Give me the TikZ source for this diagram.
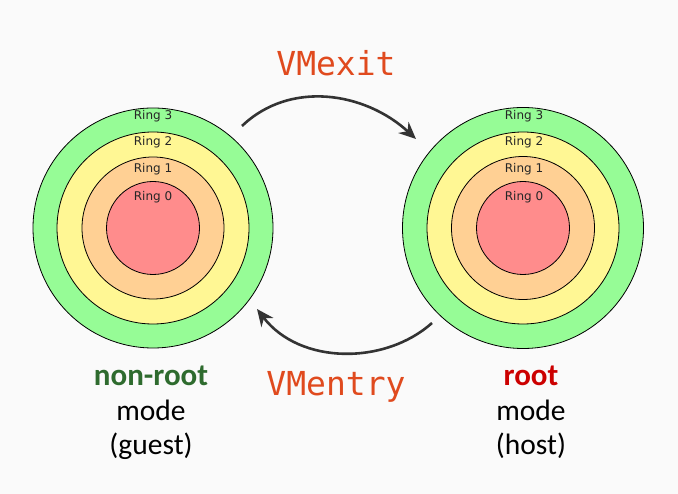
\documentclass[tikz,border=0pt]{standalone}
\usepackage{fontspec}
\setmainfont{Carlito}
\newfontfamily\ringfont{DejaVu Sans}
\newfontfamily\monofont{DejaVu Sans Mono}
\usetikzlibrary{arrows.meta}
\definecolor{bg}{HTML}{FAFAFA}
\definecolor{rthree}{HTML}{96FC96}
\definecolor{rtwo}{HTML}{FFF794}
\definecolor{rone}{HTML}{FFD094}
\definecolor{rzero}{HTML}{FF8C8C}
\definecolor{vmcol}{HTML}{E04A1E}
\definecolor{arrowcol}{HTML}{333333}
\definecolor{guestcol}{HTML}{2E6B2E}
\definecolor{hostcol}{HTML}{CC0000}
\tikzset{
  ring/.style={circle, draw=black, line width=0.8pt, inner sep=0pt},
  ringlabel/.style={font=\ringfont\fontsize{12}{14}\selectfont, text=black!85, inner sep=0pt},
  vmlabel/.style={font=\monofont\fontsize{33}{36}\selectfont, text=vmcol, inner sep=0pt},
  modelabel/.style={font=\fontsize{29.5}{35}\selectfont, align=center, inner sep=0pt},
  flow/.style={draw=arrowcol, line width=2.6pt, -{Stealth[length=17pt,width=15pt]}}
}
\begin{document}
\begin{tikzpicture}[x=1pt,y=-1pt]
\fill[bg] (0,0) rectangle (678,494);
\useasboundingbox (0,0) rectangle (678,494);
% left rings
\node[ring, fill=rthree, minimum size=240pt] (gthree) at (153,228) {};
\node[ring, fill=rtwo, minimum size=192pt] (gtwo) at (153,228) {};
\node[ring, fill=rone, minimum size=142pt] (gone) at (153,228) {};
\node[ring, fill=rzero, minimum size=93pt] (gzero) at (153,228) {};
\node[ringlabel] (gl3) at (153,116) {Ring 3};
\node[ringlabel] (gl2) at (153,142) {Ring 2};
\node[ringlabel] (gl1) at (153,169) {Ring 1};
\node[ringlabel] (gl0) at (153,197) {Ring 0};
% right rings
\node[ring, fill=rthree, minimum size=241pt] (hthree) at (523,228) {};
\node[ring, fill=rtwo, minimum size=192pt] (htwo) at (523,228) {};
\node[ring, fill=rone, minimum size=143pt] (hone) at (523,228) {};
\node[ring, fill=rzero, minimum size=93pt] (hzero) at (523,228) {};
\node[ringlabel] (hl3) at (524,116) {Ring 3};
\node[ringlabel] (hl2) at (524,142) {Ring 2};
\node[ringlabel] (hl1) at (524,169) {Ring 1};
\node[ringlabel] (hl0) at (524,197) {Ring 0};
% arrows
\coordinate (exitA) at (242,126);
\coordinate (exitB) at (416,139);
\coordinate (entryA) at (432,323);
\coordinate (entryB) at (257,309);
\draw[flow] (exitA) .. controls (290,80) and (365,92) .. (exitB);
\draw[flow] (entryA) .. controls (385,365) and (300,365) .. (entryB);
\node[vmlabel, anchor=base] (vmexit) at (336,76) {VMexit};
\node[vmlabel, anchor=base] (vmentry) at (336,396) {VMentry};
% mode labels
\node[modelabel, anchor=base] (guest) at (151,455) {{\fontsize{31}{35}\selectfont\textbf{\textcolor{guestcol}{non-root}}}\\mode\\(guest)};
\node[modelabel, anchor=base] (host) at (531,455) {{\fontsize{31}{35}\selectfont\textbf{\textcolor{hostcol}{root}}}\\mode\\(host)};
\end{tikzpicture}
\end{document}
